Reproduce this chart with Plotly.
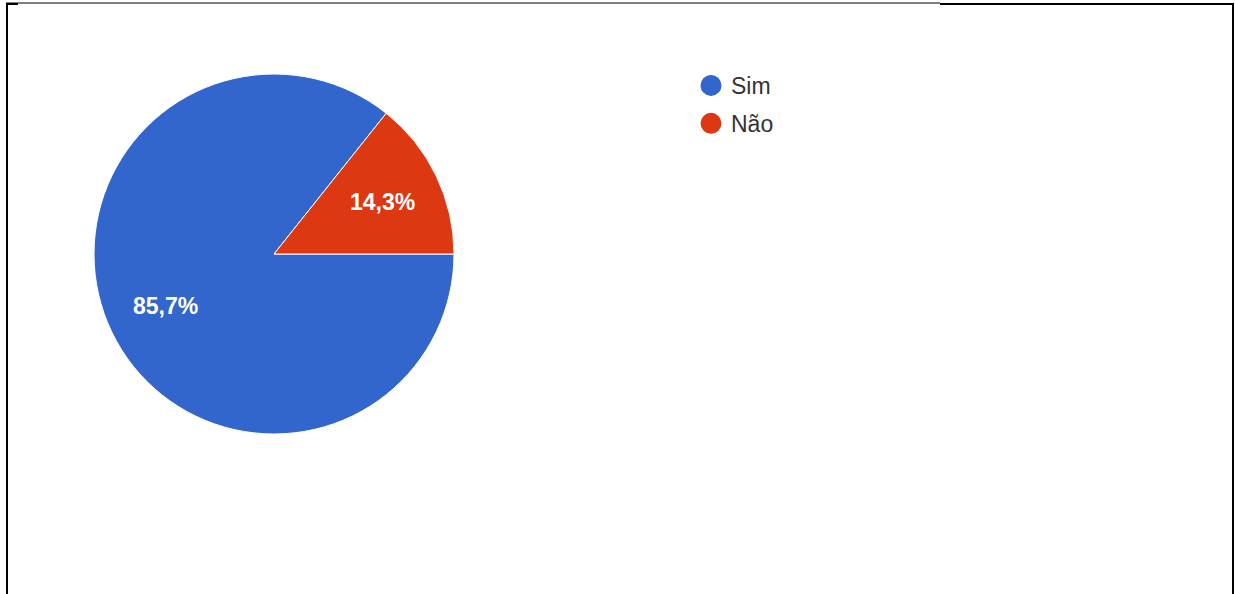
import math
import plotly.graph_objects as go

labels = ["Sim", "Não"]
values = [6, 1]
colors = ["#3366CC", "#DC3912"]

W, H = 1235, 594

def px(x):
    return x / W

def py(y):
    return 1 - y / H

# pie geometry (pixels)
pie_left, pie_right, pie_top, pie_bottom = 94, 454, 74, 434
cx = (pie_left + pie_right) / 2
cy = (pie_top + pie_bottom) / 2
R = (pie_bottom - pie_top) / 2

fig = go.Figure()
fig.add_trace(go.Pie(
    labels=labels, values=values, sort=False,
    direction="clockwise", rotation=90,
    marker=dict(colors=colors, line=dict(color="white", width=1)),
    textinfo="none",
    domain=dict(x=[px(pie_left), px(pie_right)], y=[py(pie_bottom), py(pie_top)]),
    showlegend=False, hoverinfo="label+percent",
))
for lab, col in zip(labels, colors):
    fig.add_trace(go.Scatter(
        x=[None], y=[None], mode="markers", name=lab,
        marker=dict(color=col, size=16, symbol="circle", line=dict(color=col, width=5)),
        legendgroup=lab, showlegend=True,
    ))

# slice labels placed at 2/3 of the radius along each slice's mid angle
total = sum(values)
annotations = []
start = 0.0  # degrees clockwise from 3 o'clock
for v in values:
    span = 360.0 * v / total
    mid = math.radians(start + span / 2)
    r = R * 0.667
    x = cx + r * math.cos(mid)
    y = cy + r * math.sin(mid)
    pct = 100.0 * v / total
    annotations.append(dict(
        x=px(x), y=py(y), xref="paper", yref="paper", showarrow=False,
        text="<b>" + f"{pct:.1f}%".replace(".", ",") + "</b>",
        font=dict(color="white", size=23, family="Liberation Sans, Arial, sans-serif"),
        xanchor="center", yanchor="middle",
    ))
    start += span

shapes = []
line = dict(color="black", width=2)
shapes.append(dict(type="line", xref="paper", yref="paper", x0=px(7), x1=px(7), y0=py(4), y1=py(594), line=line))
shapes.append(dict(type="line", xref="paper", yref="paper", x0=px(1233), x1=px(1233), y0=py(4), y1=py(594), line=line))
shapes.append(dict(type="line", xref="paper", yref="paper", x0=px(6), x1=px(940), y0=py(3), y1=py(3), line=dict(color="black", width=1)))
shapes.append(dict(type="line", xref="paper", yref="paper", x0=px(940), x1=px(1234), y0=py(4), y1=py(4), line=line))
shapes.append(dict(type="line", xref="paper", yref="paper", x0=px(6), x1=px(18), y0=py(4), y1=py(4), line=line))

fig.update_layout(
    width=W, height=H,
    margin=dict(l=0, r=0, t=0, b=0),
    paper_bgcolor="white", plot_bgcolor="white",
    separators=",.",
    xaxis=dict(visible=False), yaxis=dict(visible=False),
    shapes=shapes, annotations=annotations,
    legend=dict(x=px(691), y=py(64), xanchor="left", yanchor="top",
                font=dict(size=23, color="#333333", family="Liberation Sans, Arial, sans-serif"),
                tracegroupgap=5, bgcolor="rgba(0,0,0,0)"),
)
fig.write_html("out.html")
